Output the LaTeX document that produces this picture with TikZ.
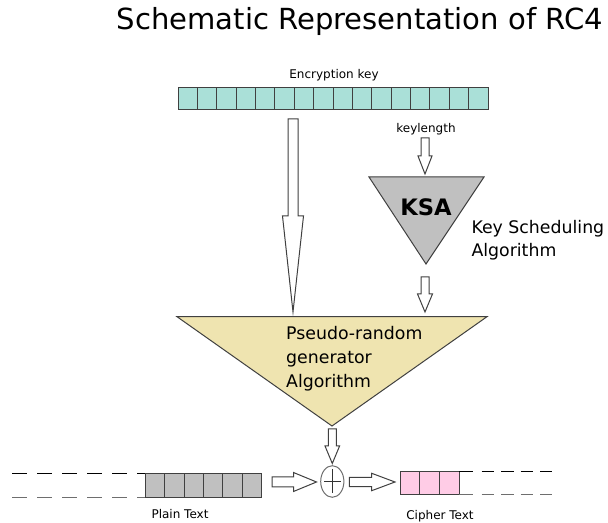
\documentclass[tikz,border=0pt]{standalone}
\usepackage{fontspec}
\setmainfont{DejaVu Sans}
\usetikzlibrary{shapes.geometric}
\definecolor{keyfill}{RGB}{170,224,216}
\definecolor{prgafill}{RGB}{239,228,176}
\definecolor{ksafill}{RGB}{192,192,192}
\definecolor{plainfill}{RGB}{192,192,192}
\definecolor{cipherfill}{RGB}{255,204,230}
\definecolor{edgegray}{RGB}{64,64,64}
\definecolor{dashgray}{RGB}{110,110,110}
\newcommand{\rcdownarrow}[6]{%
  \draw[blockarrow] ({#1-#5},#2) -- ({#1+#5},#2) -- ({#1+#5},#3) -- ({#1+#6},#3)
    -- (#1,#4) -- ({#1-#6},#3) -- ({#1-#5},#3) -- cycle;}
\newcommand{\rcrightarrow}[6]{%
  \draw[blockarrow] (#1,{#4-#5}) -- (#2,{#4-#5}) -- (#2,{#4-#6}) -- (#3,#4)
    -- (#2,{#4+#6}) -- (#2,{#4+#5}) -- (#1,{#4+#5}) -- cycle;}
\tikzset{
  blockarrow/.style={draw=edgegray, fill=white, line width=0.75pt, line join=miter},
  cellbox/.style={draw=edgegray, line width=0.75pt},
  smalllabel/.style={anchor=base, font=\fontsize{9}{10}\selectfont, text=black},
  biglabel/.style={anchor=base west, font=\fontsize{13}{15}\selectfont, text=black},
}
\begin{document}
\begin{tikzpicture}[x=0.75pt,y=-0.75pt,line width=0.75pt]
\useasboundingbox (0,0) rectangle (608,523);
% title
\node[anchor=base, font=\fontsize{21.8}{26}\selectfont, text=black, inner sep=0] (title) at (360,30) {Schematic Representation of RC4};
% encryption key bar
\node[smalllabel] (enclabel) at (334,78.3) {Encryption key};
\foreach \i in {0,...,15}
  \draw[cellbox, fill=keyfill] ({178+19.375*\i},87.5) rectangle ++(19.375,22.5);
\coordinate (keybar) at (333,110);
% big arrow from key to PRGA
\rcdownarrow{293}{119}{216}{312}{5}{10.5}
% keylength
\node[smalllabel] (keylen) at (426,132.3) {keylength};
\rcdownarrow{425}{138}{156}{174}{4}{7}
% KSA triangle
\coordinate (ksaL) at (369,177);
\coordinate (ksaR) at (484,177);
\coordinate (ksaT) at (426,264);
\draw[draw=edgegray, fill=ksafill, line width=0.75pt] (ksaL) -- (ksaR) -- (ksaT) -- cycle;
\node[anchor=base, font=\bfseries\fontsize{17}{20}\selectfont, inner sep=0] (ksalabel) at (426,216) {KSA};
\node[biglabel, inner sep=0] (ksa1) at (471,233.3) {Key Scheduling};
\node[biglabel, inner sep=0] (ksa2) at (471,256.7) {Algorithm};
% KSA -> PRGA
\rcdownarrow{425}{277}{294}{312}{4}{7.5}
% PRGA triangle
\coordinate (prL) at (177,316.7);
\coordinate (prR) at (487,316.7);
\coordinate (prT) at (332,426);
\draw[draw=edgegray, fill=prgafill, line width=0.75pt] (prL) -- (prR) -- (prT) -- cycle;
\node[biglabel, inner sep=0] (pr1) at (285.7,339.3) {Pseudo-random};
\node[biglabel, inner sep=0] (pr2) at (285.7,363.3) {generator};
\node[biglabel, inner sep=0] (pr3) at (285.7,387.3) {Algorithm};
% PRGA -> XOR
\rcdownarrow{332.3}{429}{446}{463.5}{4}{7.3}
% XOR
\node[draw=dashgray, ellipse, inner sep=0, minimum width=17.4pt, minimum height=23.7pt, line width=0.75pt] (xor) at (332.3,481.5) {};
\draw[draw=black!80, line width=0.75pt] (324,481.5) -- (341,481.5) (332.3,469.5) -- (332.3,493.5);
% plain text
\draw[dash pattern=on 11.25pt off 7.5pt, black] (12,474) -- (145.3,474);
\draw[dash pattern=on 11.25pt off 7.5pt, dashgray] (12,497.3) -- (145.3,497.3);
\foreach \i in {0,...,5}
  \draw[cellbox, fill=plainfill] ({145.3+19.4*\i},474) rectangle ++(19.4,23.3);
\node[smalllabel] (plainlabel) at (180,518.3) {Plain Text};
% plain -> XOR
\rcrightarrow{272}{293.5}{316.5}{482}{5}{9.5}
% XOR -> cipher
\rcrightarrow{349.3}{371.7}{395}{482}{4.7}{8.7}
% cipher text
\foreach \i in {0,...,2}
  \draw[cellbox, fill=cipherfill] ({400+19.67*\i},472) rectangle ++(19.67,23);
\draw[black] (459,472) -- (473.3,472);
\draw[dashgray] (459,495) -- (473.3,495);
\draw[dash pattern=on 9.56pt off 5.06pt, black] (481.7,472) -- (551.7,472);
\draw[dash pattern=on 9.56pt off 5.06pt, dashgray] (481.7,495) -- (551.7,495);
\node[smalllabel] (cipherlabel) at (440,519.3) {Cipher Text};
\end{tikzpicture}
\end{document}
